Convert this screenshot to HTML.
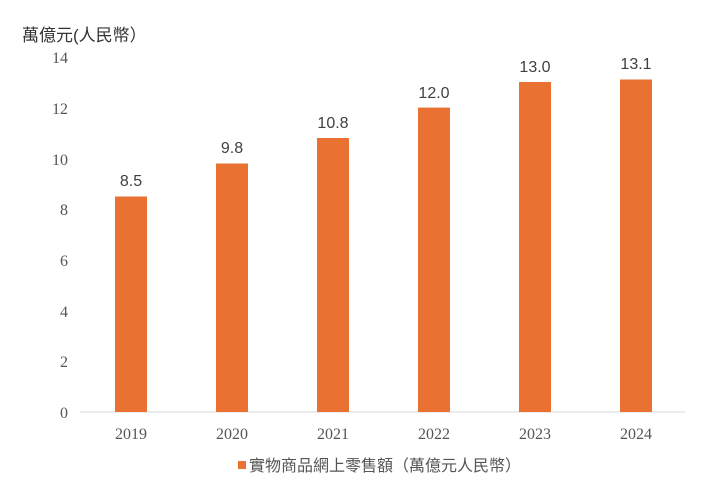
<!DOCTYPE html>
<html><head><meta charset="utf-8"><style>
body{margin:0;background:#fff;}
.s{font-family:"Liberation Serif","Noto Serif CJK SC",serif;}
.a{font-family:"Liberation Sans","Noto Sans CJK TC",sans-serif;}
</style></head><body>
<svg width="726" height="487" xmlns="http://www.w3.org/2000/svg">
<rect width="726" height="487" fill="#fff"/>
<text class="a" x="22" y="41" font-size="17" fill="#333">萬億元(人民幣）</text>
<g class="s" font-size="16" fill="#555" text-anchor="end">
<text x="68" y="418">0</text>
<text x="68" y="367">2</text>
<text x="68" y="317">4</text>
<text x="68" y="266">6</text>
<text x="68" y="215">8</text>
<text x="68" y="165">10</text>
<text x="68" y="114">12</text>
<text x="68" y="63">14</text>
</g>
<line x1="80" y1="412" x2="685" y2="412" stroke="#d9d9d9" stroke-width="1"/>
<g fill="#e97132">
<rect x="115" y="196.5" width="32" height="215.5"/>
<rect x="216" y="163.5" width="32" height="248.5"/>
<rect x="317" y="138" width="32" height="274"/>
<rect x="418" y="107.6" width="32" height="304.4"/>
<rect x="519" y="82" width="32" height="330"/>
<rect x="620" y="79.5" width="32" height="332.5"/>
</g>
<g class="a" font-size="16" fill="#404040" text-anchor="middle">
<text x="131" y="186">8.5</text>
<text x="232" y="153">9.8</text>
<text x="333" y="128">10.8</text>
<text x="434" y="98">12.0</text>
<text x="535" y="72">13.0</text>
<text x="636" y="69">13.1</text>
</g>
<g class="s" font-size="16" fill="#555" text-anchor="middle">
<text x="131" y="439">2019</text>
<text x="232" y="439">2020</text>
<text x="333" y="439">2021</text>
<text x="434" y="439">2022</text>
<text x="535" y="439">2023</text>
<text x="636" y="439">2024</text>
</g>
<rect x="238" y="461" width="8" height="8" fill="#e97132"/>
<text class="a" x="249" y="471" font-size="16" fill="#555">實物商品網上零售額（萬億元人民幣）</text>
</svg>
</body></html>
